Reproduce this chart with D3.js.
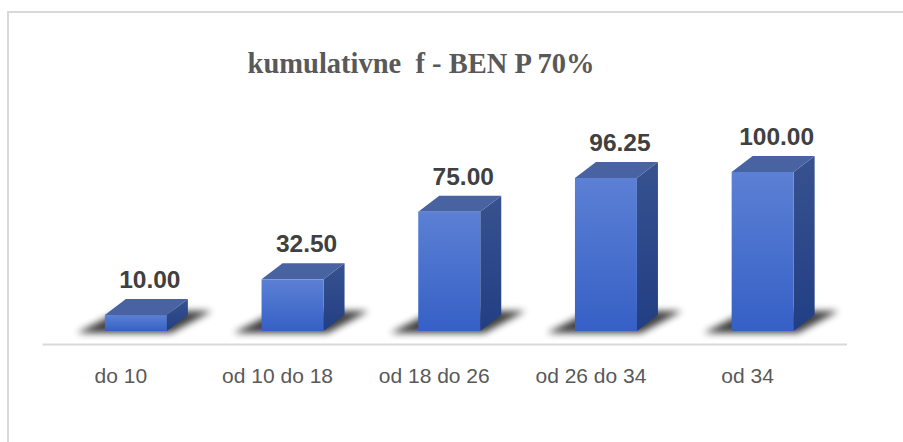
<!DOCTYPE html>
<html>
<head>
<meta charset="utf-8">
<script src="https://cdn.jsdelivr.net/npm/d3@7"></script>
<style>
  html, body { margin: 0; padding: 0; background: #fff; }
  svg { display: block; }
</style>
</head>
<body>
<svg width="903" height="442"></svg>
<script>
// data
var categories = ["do 10", "od 10 do 18", "od 18 do 26", "od 26 do 34", "od 34"];
var values = [10.00, 32.50, 75.00, 96.25, 100.00];
var title = "kumulativne  f - BEN P 70%";

var svg = d3.select("svg");
var defs = svg.append("defs");

// 3d depth of the bars
var dx = 21, dy = -16;
var barW = 62;

var x = d3.scaleBand().domain(categories).range([42.5, 826]).padding(0);
var y = d3.scaleLinear().domain([0, 100]).range([331, 172]);

// gradients
var gFront = defs.append("linearGradient").attr("id", "front").attr("x1", 0).attr("y1", 0).attr("x2", 0).attr("y2", 1);
gFront.append("stop").attr("offset", "0%").attr("stop-color", "#5b80d4");
gFront.append("stop").attr("offset", "100%").attr("stop-color", "#3660c6");
var gSide = defs.append("linearGradient").attr("id", "side").attr("x1", 0).attr("y1", 0).attr("x2", 0).attr("y2", 1);
gSide.append("stop").attr("offset", "0%").attr("stop-color", "#38528f");
gSide.append("stop").attr("offset", "100%").attr("stop-color", "#223f84");
var blur = defs.append("filter").attr("id", "blur").attr("x", "-50%").attr("y", "-100%").attr("width", "200%").attr("height", "300%");
blur.append("feGaussianBlur").attr("stdDeviation", 3.5);

// chart border
svg.append("rect")
  .attr("x", 8).attr("y", 12).attr("width", 1000).attr("height", 1000)
  .attr("fill", "none").attr("stroke", "#d9d9d9").attr("stroke-width", 2);

// title
svg.append("text")
  .attr("x", 421).attr("y", 73)
  .attr("text-anchor", "middle")
  .style("font-family", "'Liberation Serif', 'Times New Roman', serif")
  .style("font-weight", "bold").style("font-size", "28.5px")
  .style("white-space", "pre")
  .attr("fill", "#595959")
  .text(title);

// axis line
svg.append("line")
  .attr("x1", x.range()[0]).attr("x2", x.range()[1] + dx)
  .attr("y1", 344.5).attr("y2", 344.5)
  .attr("stroke", "#d9d9d9").attr("stroke-width", 2);

// category labels
svg.append("g").selectAll("text")
  .data(categories).enter().append("text")
  .attr("x", function(d) { return x(d) + x.bandwidth() / 2; })
  .attr("y", 383)
  .attr("text-anchor", "middle")
  .style("font-family", "'Liberation Sans', Arial, sans-serif")
  .style("font-size", "21px")
  .attr("fill", "#595959")
  .text(function(d) { return d; });

var bars = svg.append("g").selectAll("g")
  .data(values).enter().append("g");

function left(i) { return x(categories[i]) + x.bandwidth() / 2 - 16; }

// shadow on the floor
bars.append("polygon")
  .attr("points", function(d, i) {
    var x0 = left(i), x1 = x0 + barW, b = y(0);
    return [[x0 - 28, b + 2], [x1 + 4, b + 2], [x1 + dx + 24, b + dy - 4], [x0 + dx - 6, b + dy - 4]].join(" ");
  })
  .attr("fill", "#000").attr("opacity", 0.75)
  .attr("filter", "url(#blur)");

// side face
bars.append("polygon")
  .attr("points", function(d, i) {
    var x1 = left(i) + barW;
    return [[x1, y(d)], [x1 + dx, y(d) + dy], [x1 + dx, y(0) + dy], [x1, y(0)]].join(" ");
  })
  .attr("fill", "url(#side)");

// top face
bars.append("polygon")
  .attr("points", function(d, i) {
    var x0 = left(i), x1 = x0 + barW;
    return [[x0, y(d)], [x0 + dx, y(d) + dy], [x1 + dx, y(d) + dy], [x1, y(d)]].join(" ");
  })
  .attr("fill", "#4862a2");

// front face
bars.append("rect")
  .attr("x", function(d, i) { return left(i); })
  .attr("y", function(d) { return y(d); })
  .attr("width", barW)
  .attr("height", function(d) { return y(0) - y(d); })
  .attr("fill", "url(#front)");

// value labels
bars.append("text")
  .attr("x", function(d, i) { return left(i) + barW / 2 + 14; })
  .attr("y", function(d) { return y(d) + dy - 11; })
  .attr("text-anchor", "middle")
  .style("font-family", "'Liberation Sans', Arial, sans-serif")
  .style("font-weight", "bold").style("font-size", "24.5px")
  .attr("fill", "#404040")
  .text(function(d) { return d.toFixed(2); });
</script>
</body>
</html>
